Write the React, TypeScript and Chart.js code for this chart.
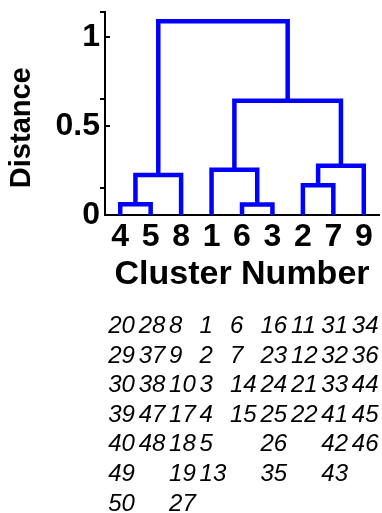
import React, { useEffect, useRef } from 'react';
import { Chart, registerables } from 'chart.js';

Chart.register(...registerables);

const FONT = 'Liberation Sans, Arial, Helvetica, sans-serif';

// Leaf order along the x axis (cluster numbers)
const leafOrder = [4, 5, 8, 1, 6, 3, 2, 7, 9];
// Linkage (like MATLAB's Z): merged nodes are numbered 10, 11, ... in row order
const linkLeft = [4, 6, 2, 10, 1, 12, 14, 13];
const linkRight = [5, 3, 7, 8, 11, 9, 15, 16];
const linkHeight = [0.061, 0.059, 0.167, 0.224, 0.254, 0.276, 0.642, 1.088];

const yTickValues = [0, 0.5, 1];
const yOuterTicks = [0.15, 0.65, 1.14];
const yMax = 1.14;

// Members of each cluster (index = cluster number - 1)
const members1 = [1, 2, 3, 4, 5, 13];
const members2 = [11, 12, 21, 22];
const members3 = [16, 23, 24, 25, 26, 35];
const members4 = [20, 29, 30, 39, 40, 49, 50];
const members5 = [28, 37, 38, 47, 48];
const members6 = [6, 7, 14, 15];
const members7 = [31, 32, 33, 41, 42, 43];
const members8 = [8, 9, 10, 17, 18, 19, 27];
const members9 = [34, 36, 44, 45, 46];
const clusterMembers = [members1, members2, members3, members4, members5, members6, members7, members8, members9];

function buildDatasets() {
  const n = leafOrder.length;
  const nodeX: Record<number, number> = {};
  const nodeY: Record<number, number> = {};
  leafOrder.forEach((c, i) => {
    nodeX[c] = i + 1;
    nodeY[c] = 0;
  });
  return linkLeft.map((l, k) => {
    const r = linkRight[k];
    const h = linkHeight[k];
    const id = n + 1 + k;
    nodeX[id] = (nodeX[l] + nodeX[r]) / 2;
    nodeY[id] = h;
    return {
      data: [
        { x: nodeX[l], y: nodeY[l] },
        { x: nodeX[l], y: h },
        { x: nodeX[r], y: h },
        { x: nodeX[r], y: nodeY[r] },
      ],
      showLine: true,
      borderColor: '#0000ff',
      backgroundColor: '#0000ff',
      borderWidth: 4.5,
      pointRadius: 0,
      fill: false,
      tension: 0,
      borderJoinStyle: 'miter' as const,
      borderCapStyle: 'butt' as const,
      clip: 10,
    };
  });
}

const extrasPlugin = {
  id: 'extras',
  afterDraw(chart: any) {
    const { ctx, chartArea, scales } = chart;
    const xs = scales.x;
    const ys = scales.y;
    const ax = chartArea.left;
    ctx.save();
    ctx.strokeStyle = '#000';
    ctx.lineWidth = 2;
    ctx.beginPath();
    yTickValues.forEach((v) => {
      const py = Math.round(ys.getPixelForValue(v));
      ctx.moveTo(ax, py);
      ctx.lineTo(ax + 5, py);
    });
    yOuterTicks.forEach((v) => {
      const py = Math.round(ys.getPixelForValue(v));
      ctx.moveTo(ax - 5, py);
      ctx.lineTo(ax, py);
    });
    ctx.stroke();

    // y axis title
    ctx.fillStyle = '#000';
    ctx.save();
    ctx.translate(22, chartArea.top + (chartArea.bottom - chartArea.top) * 0.57);
    ctx.rotate(-Math.PI / 2);
    ctx.textAlign = 'center';
    ctx.textBaseline = 'middle';
    ctx.font = `bold 29px ${FONT}`;
    ctx.fillText('Distance', 0, 0);
    ctx.restore();

    // member lists under each leaf
    ctx.font = `italic 24px ${FONT}`;
    ctx.textAlign = 'left';
    ctx.textBaseline = 'alphabetic';
    leafOrder.forEach((c, i) => {
      const px = xs.getPixelForValue(i + 1) - 12;
      clusterMembers[c - 1].forEach((m, r) => {
        ctx.fillText(String(m), px, 333 + r * 29.6);
      });
    });
    ctx.restore();
  },
};

export default function App() {
  const ref = useRef<HTMLCanvasElement | null>(null);
  useEffect(() => {
    if (!ref.current) return;
    const chart = new Chart(ref.current, {
      type: 'scatter',
      data: { datasets: buildDatasets() as any },
      plugins: [extrasPlugin],
      options: {
        animation: false,
        responsive: false,
        events: [],
        layout: { padding: { left: 0, top: 12, right: 3, bottom: 218 } },
        plugins: { legend: { display: false }, tooltip: { enabled: false } },
        scales: {
          x: {
            type: 'linear',
            min: 0.5,
            max: 9.5,
            z: 1,
            grid: { display: false, drawTicks: false },
            border: { display: true, color: '#000', width: 2 },
            ticks: {
              autoSkip: false,
              maxRotation: 0,
              minRotation: 0,
              padding: 3,
              color: '#000',
              font: { family: FONT, size: 32, weight: 'bold' },
              callback: (v: any) => String(leafOrder[Math.round(Number(v)) - 1] ?? ''),
            },
            afterBuildTicks: (s: any) => {
              s.ticks = leafOrder.map((_, i) => ({ value: i + 1 }));
            },
            afterFit: (s: any) => {
              s.height = 80;
              s.paddingLeft = 0;
              s.paddingRight = 0;
            },
            title: {
              display: true,
              text: 'Cluster Number',
              color: '#000',
              font: { family: FONT, size: 34, weight: 'bold' },
              padding: { top: 0, bottom: 0 },
            },
          },
          y: {
            type: 'linear',
            min: 0,
            max: yMax,
            z: 1,
            grid: { display: false, drawTicks: false },
            border: { display: true, color: '#000', width: 2 },
            ticks: {
              padding: 5,
              color: '#000',
              font: { family: FONT, size: 32, weight: 'bold' },
              callback: (v: any) => String(v),
            },
            afterBuildTicks: (s: any) => {
              s.ticks = yTickValues.map((v) => ({ value: v }));
            },
            afterFit: (s: any) => {
              s.width = 105;
              s.paddingTop = 0;
              s.paddingBottom = 0;
            },
          },
        },
      } as any,
    });
    return () => chart.destroy();
  }, []);
  return (
    <div style={{ position: 'fixed', left: 0, top: 0, width: 382, height: 513, background: '#fff' }}>
      <canvas ref={ref} width={382} height={513} style={{ width: 382, height: 513, display: 'block' }} />
    </div>
  );
}
